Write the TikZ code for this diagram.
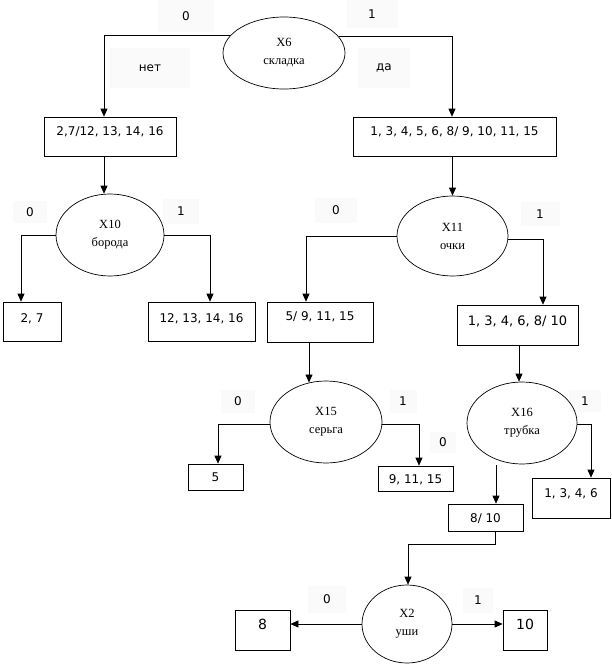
\documentclass[tikz,border=0pt]{standalone}
\usepackage{fontspec}
\setmainfont{Liberation Serif}
\newfontfamily\numfont{DejaVu Sans}
\usetikzlibrary{shapes.geometric,arrows.meta}
\begin{document}
\begin{tikzpicture}[x=1pt,y=-1pt,
  line width=0.7pt,
  bx/.style={draw, rectangle, inner sep=0pt, font=\numfont\fontsize{12}{14}\selectfont, text height=9pt, text depth=#1},
  bx/.default=0pt,
  el/.style={draw, ellipse, inner sep=0pt, align=center, font=\fontsize{12.5}{18}\selectfont},
  lb/.style={fill=black!2, inner sep=0pt, font=\numfont\fontsize{12}{14}\selectfont},
  arr/.style={-{Triangle[length=8pt,width=7pt]}}]
\useasboundingbox (0,0) rectangle (611,664);

% labels (faint backgrounds)
\node[lb, minimum width=56pt, minimum height=32pt] (l0a) at (186,16) {0};
\node[lb, minimum width=51pt, minimum height=28pt] (l1a) at (372,14) {1};
\node[lb, minimum width=80pt, minimum height=40pt] (lnet) at (150,68) {нет};
\node[lb, minimum width=52pt, minimum height=40pt] (lda) at (384,68) {да};
\node[lb, minimum width=34pt, minimum height=22pt] (l0b) at (30,212) {0};
\node[lb, minimum width=36pt, minimum height=25pt] (l1b) at (181,211) {1};
\node[lb, minimum width=42pt, minimum height=25pt] (l0c) at (336,210) {0};
\node[lb, minimum width=39pt, minimum height=24pt] (l1c) at (540,214) {1};
\node[lb, minimum width=34pt, minimum height=23pt] (l0d) at (238,401) {0};
\node[lb, minimum width=27pt, minimum height=23pt] (l1d) at (403,401) {1};
\node[lb, minimum width=26pt, minimum height=21pt] (l0e) at (443,442) {0};
\node[lb, minimum width=32pt, minimum height=22pt] (l1e) at (585,401) {1};
\node[lb, minimum width=38pt, minimum height=27pt] (l0f) at (327,599) {0};
\node[lb, minimum width=30pt, minimum height=25pt] (l1f) at (478,600) {1};

% decision ellipses
\node[el, minimum width=122pt, minimum height=72pt] (X6) at (284,53) {X6\\складка};
\node[el, minimum width=108pt, minimum height=82pt] (X10) at (110,235) {X10\\борода};
\node[el, minimum width=111pt, minimum height=80pt] (X11) at (452.5,236) {X11\\очки};
\node[el, minimum width=112pt, minimum height=82pt] (X15) at (326,422) {X15\\серьга};
\node[el, minimum width=110pt, minimum height=82pt] (X16) at (522,423) {X16\\трубка};
\node[el, minimum width=90pt, minimum height=78pt] (X2) at (407,624) {X2\\уши};

% set boxes
\node[bx=12pt, minimum width=132pt, minimum height=39pt] (A) at (110,136.5) {2,7/12, 13, 14, 16};
\node[bx=12pt, minimum width=203pt, minimum height=39pt] (B) at (454.5,136.5) {1, 3, 4, 5, 6, 8/ 9, 10, 11, 15};
\node[bx=7pt, minimum width=58pt, minimum height=39pt] (b27) at (32,321.5) {2, 7};
\node[bx=7pt, minimum width=107pt, minimum height=39pt] (b12) at (201.5,321.5) {12, 13, 14, 16};
\node[bx=12pt, minimum width=106pt, minimum height=40pt] (b59) at (320,322) {5/ 9, 11, 15};
\node[bx=8pt, minimum width=121pt, minimum height=40pt, font=\numfont\fontsize{13}{15}\selectfont] (b13) at (517.5,325) {1, 3, 4, 6, 8/ 10};
\node[bx, minimum width=55pt, minimum height=26pt] (b5) at (215.5,477) {5};
\node[bx, minimum width=75pt, minimum height=25pt] (b91) at (415.5,478.5) {9, 11, 15};
\node[bx=10pt, minimum width=78pt, minimum height=40pt] (b1346) at (571,498) {1, 3, 4, 6};
\node[bx, minimum width=75pt, minimum height=27pt] (b810) at (485.5,517.5) {8/ 10};
\node[bx=10pt, minimum width=55pt, minimum height=40pt, font=\numfont\fontsize{14}{16}\selectfont] (b8) at (262.5,630) {8};
\node[bx=10pt, minimum width=44pt, minimum height=40pt, font=\numfont\fontsize{14}{16}\selectfont] (b10) at (525,630) {10};

% connectors
\draw[arr] (X6.162.5) -| ([xshift=-6pt]A.north);
\draw[arr] (X6.17.5) -| ([xshift=-2.5pt]B.north);
\draw[arr] ([xshift=-6pt]A.south) -- ([xshift=-6pt]X10.north);
\draw[arr] (X11.north |- B.south) -- (X11.north);
\draw[arr] (X10.west) -| ([xshift=-11pt]b27.north);
\draw[arr] (X10.east) -| ([xshift=8.5pt]b12.north);
\draw[arr] (X11.west) -| ([xshift=-14pt]b59.north);
\draw[arr] (X11.-3) -| ([xshift=25.5pt]b13.north);
\coordinate (s59) at ([xshift=-11pt]b59.south);
\draw[arr] (s59) -- (s59 |- X15.113.5);
\draw[arr] ([xshift=1.5pt]b13.south) -- ([xshift=-3pt]X16.north);
\draw[arr] (X15.182) -| ([xshift=2.5pt]b5.north);
\draw[arr] (X15.358) -| ([xshift=3.5pt]b91.north);
\draw[arr] (X16.359) -| ([xshift=20pt]b1346.north);
\coordinate (c16) at (496,465);
\draw[arr] (c16) -- (c16 |- b810.north);
\draw[arr] ([xshift=9.5pt]b810.south) -- ++(0,13) -| ([xshift=1pt]X2.north);
\draw[arr] (X2.west) -- (X2.west -| b8.east);
\draw[arr] (X2.east) -- (X2.east -| b10.west);
\end{tikzpicture}
\end{document}
